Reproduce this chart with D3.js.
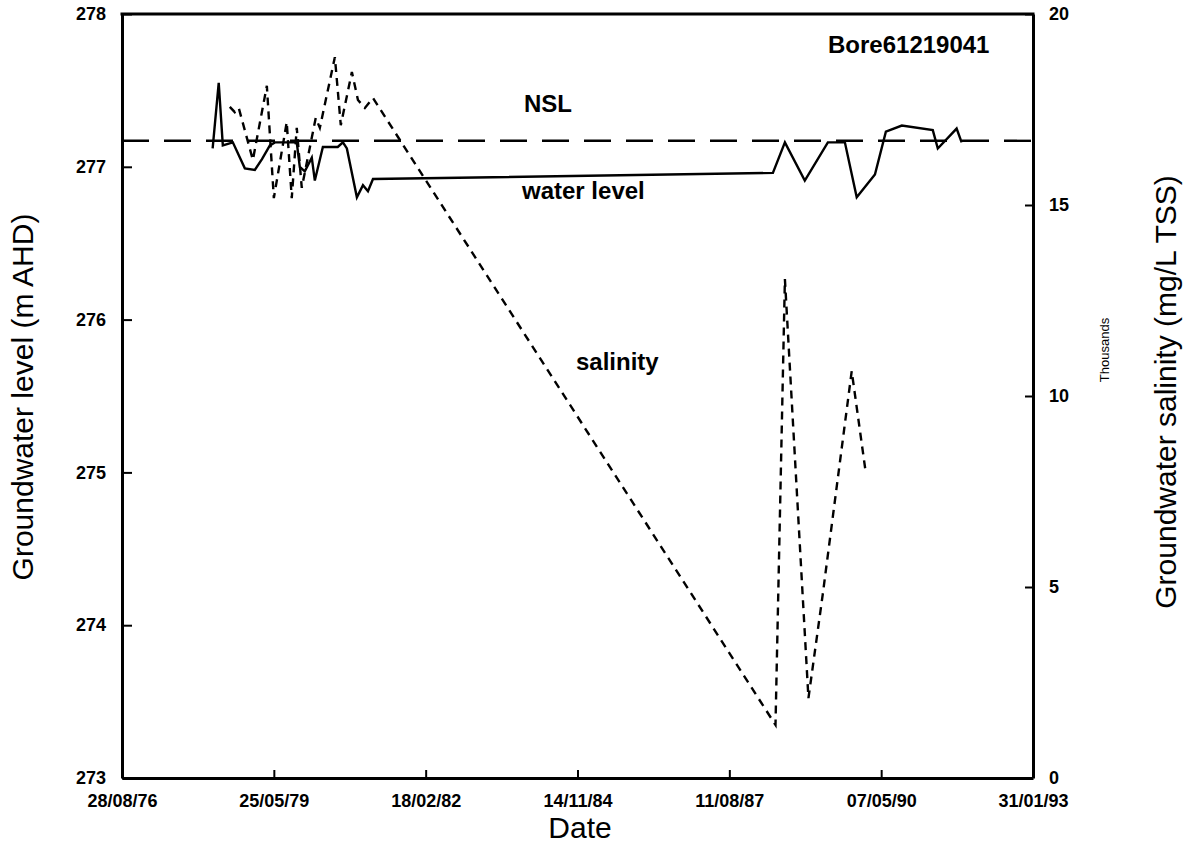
<!DOCTYPE html>
<html>
<head>
<meta charset="utf-8">
<script src="https://cdn.jsdelivr.net/npm/d3@7"></script>
<style>
  body { margin: 0; background: #fff; }
  text { font-family: "Liberation Sans", Arial, Helvetica, sans-serif; fill: #000; }
</style>
</head>
<body>
<script>
// groundwater level readings (m AHD)
const waterDates = ["17/04/78", "27/05/78", "23/06/78", "28/08/78", "15/11/78", "20/01/79", "08/03/79",
  "29/04/79", "01/06/79", "23/10/79", "12/11/79", "15/12/79", "30/01/80", "19/02/80", "12/04/80",
  "19/07/80", "22/08/80", "17/09/80", "22/11/80", "01/01/81", "03/02/81", "08/03/81", "24/05/88",
  "11/08/88", "20/12/88", "21/05/89", "10/09/89", "27/11/89", "27/03/90", "07/06/90", "20/09/90",
  "12/04/91", "15/05/91", "16/09/91", "19/10/91"]
const waterLevel = [277.12, 277.55, 277.14, 277.16, 276.99, 276.98, 277.05,
  277.14, 277.16, 277.16, 277.00, 276.97, 277.06, 276.91, 277.13,
  277.13, 277.16, 277.12, 276.80, 276.88, 276.84, 276.92, 276.96,
  277.16, 276.91, 277.16, 277.16, 276.80, 276.95, 277.23, 277.27,
  277.24, 277.12, 277.25, 277.16]

// salinity readings (thousands mg/L TSS)
const salinityDates = ["08/08/78", "10/09/78", "06/10/78", "07/01/79", "09/04/79", "25/05/79",
  "18/08/79", "20/09/79", "23/10/79", "25/11/79", "25/02/80", "23/03/80", "30/06/80", "08/08/80",
  "20/10/80", "29/11/80", "14/01/81", "08/03/81", "10/06/88", "11/08/88", "13/01/89", "17/04/89",
  "25/10/89", "26/01/90"]
const salinity = [17.57, 17.43, 17.54, 16.18, 18.12, 15.18,
  17.17, 15.18, 17.02, 15.45, 17.28, 17.02, 18.87, 17.09,
  18.48, 17.75, 17.54, 17.80, 1.39, 13.06, 2.09, 4.8,
  10.65, 7.98]

const nslLevel = 277.17
const dateTicks = ["28/08/76", "25/05/79", "18/02/82", "14/11/84", "11/08/87", "07/05/90", "31/01/93"]
const levelTicks = [273, 274, 275, 276, 277, 278]
const salinityTicks = [0, 5, 10, 15, 20]

const parse = d3.timeParse("%d/%m/%y")

const W = 1192, H = 848
const plot = {left: 122, right: 1033, top: 14, bottom: 778}

const svg = d3.select("body").append("svg")
    .attr("width", W)
    .attr("height", H)

const xScale = d3.scaleTime()
    .domain([parse(dateTicks[0]), parse(dateTicks[dateTicks.length - 1])])
    .range([plot.left, plot.right])

const yLeft = d3.scaleLinear()
    .domain([273, 278])
    .range([plot.bottom, plot.top])

const yRight = d3.scaleLinear()
    .domain([0, 20])
    .range([plot.bottom, plot.top])

// axes, ticks pointing into the plot
const xAxis = svg.append("g")
    .attr("transform", "translate(0," + plot.bottom + ")")
    .call(d3.axisBottom(xScale)
        .tickValues(dateTicks.map(parse))
        .tickFormat(d3.timeFormat("%d/%m/%y"))
        .tickSizeInner(-8).tickSizeOuter(0).tickPadding(16))

const leftAxis = svg.append("g")
    .attr("transform", "translate(" + plot.left + ",0)")
    .call(d3.axisLeft(yLeft)
        .tickValues(levelTicks)
        .tickFormat(d3.format("d"))
        .tickSizeInner(-10).tickSizeOuter(0).tickPadding(16))

const rightAxis = svg.append("g")
    .attr("transform", "translate(" + plot.right + ",0)")
    .call(d3.axisRight(yRight)
        .tickValues(salinityTicks)
        .tickFormat(d3.format("d"))
        .tickSizeInner(-8).tickSizeOuter(0).tickPadding(16))

svg.selectAll(".domain").attr("stroke", "#000").attr("stroke-width", 3)
svg.selectAll(".tick line").attr("stroke", "#000").attr("stroke-width", 2)
svg.selectAll(".tick text")
    .style("font-family", "'Liberation Sans', Arial, sans-serif")
    .style("font-size", "18px")
    .style("font-weight", "bold")
    .attr("fill", "#000")

// top border of the frame
svg.append("line")
    .attr("x1", plot.left - 1.5).attr("x2", plot.right + 1.5)
    .attr("y1", plot.top).attr("y2", plot.top)
    .attr("stroke", "#000").attr("stroke-width", 3)

// NSL reference line
svg.append("line")
    .attr("x1", plot.left).attr("x2", plot.right)
    .attr("y1", yLeft(nslLevel)).attr("y2", yLeft(nslLevel))
    .attr("stroke", "#000")
    .attr("stroke-width", 2.4)
    .attr("stroke-dasharray", "27,15")

// water level line (left axis)
const waterData = waterDates.map((d, i) => ({date: parse(d), value: waterLevel[i]}))
svg.append("path")
    .datum(waterData)
    .attr("fill", "none")
    .attr("stroke", "#000")
    .attr("stroke-width", 2.4)
    .attr("stroke-linejoin", "miter")
    .attr("d", d3.line()
        .x(d => xScale(d.date))
        .y(d => yLeft(d.value)))

// salinity line (right axis)
const salinityData = salinityDates.map((d, i) => ({date: parse(d), value: salinity[i]}))
svg.append("path")
    .datum(salinityData)
    .attr("fill", "none")
    .attr("stroke", "#000")
    .attr("stroke-width", 2.4)
    .attr("stroke-dasharray", "8,6")
    .attr("d", d3.line()
        .x(d => xScale(d.date))
        .y(d => yRight(d.value)))

// annotations
function label(x, y, txt, size) {
    svg.append("text")
        .attr("x", x)
        .attr("y", y)
        .style("font-size", size + "px")
        .style("font-weight", "bold")
        .text(txt)
}
label(828, 53, "Bore61219041", 24)
label(524, 112, "NSL", 24)
label(522, 199, "water level", 24)
label(576, 370, "salinity", 24)

// axis titles
svg.append("text")
    .attr("x", 580)
    .attr("y", 838)
    .attr("text-anchor", "middle")
    .style("font-size", "30px")
    .text("Date")

svg.append("text")
    .attr("transform", "translate(33,397) rotate(-90)")
    .attr("text-anchor", "middle")
    .style("font-size", "30px")
    .text("Groundwater level (m AHD)")

svg.append("text")
    .attr("transform", "translate(1176,392) rotate(-90)")
    .attr("text-anchor", "middle")
    .style("font-size", "30px")
    .text("Groundwater salinity (mg/L TSS)")

svg.append("text")
    .attr("transform", "translate(1109,350) rotate(-90)")
    .attr("text-anchor", "middle")
    .style("font-size", "13px")
    .text("Thousands")
</script>
</body>
</html>
